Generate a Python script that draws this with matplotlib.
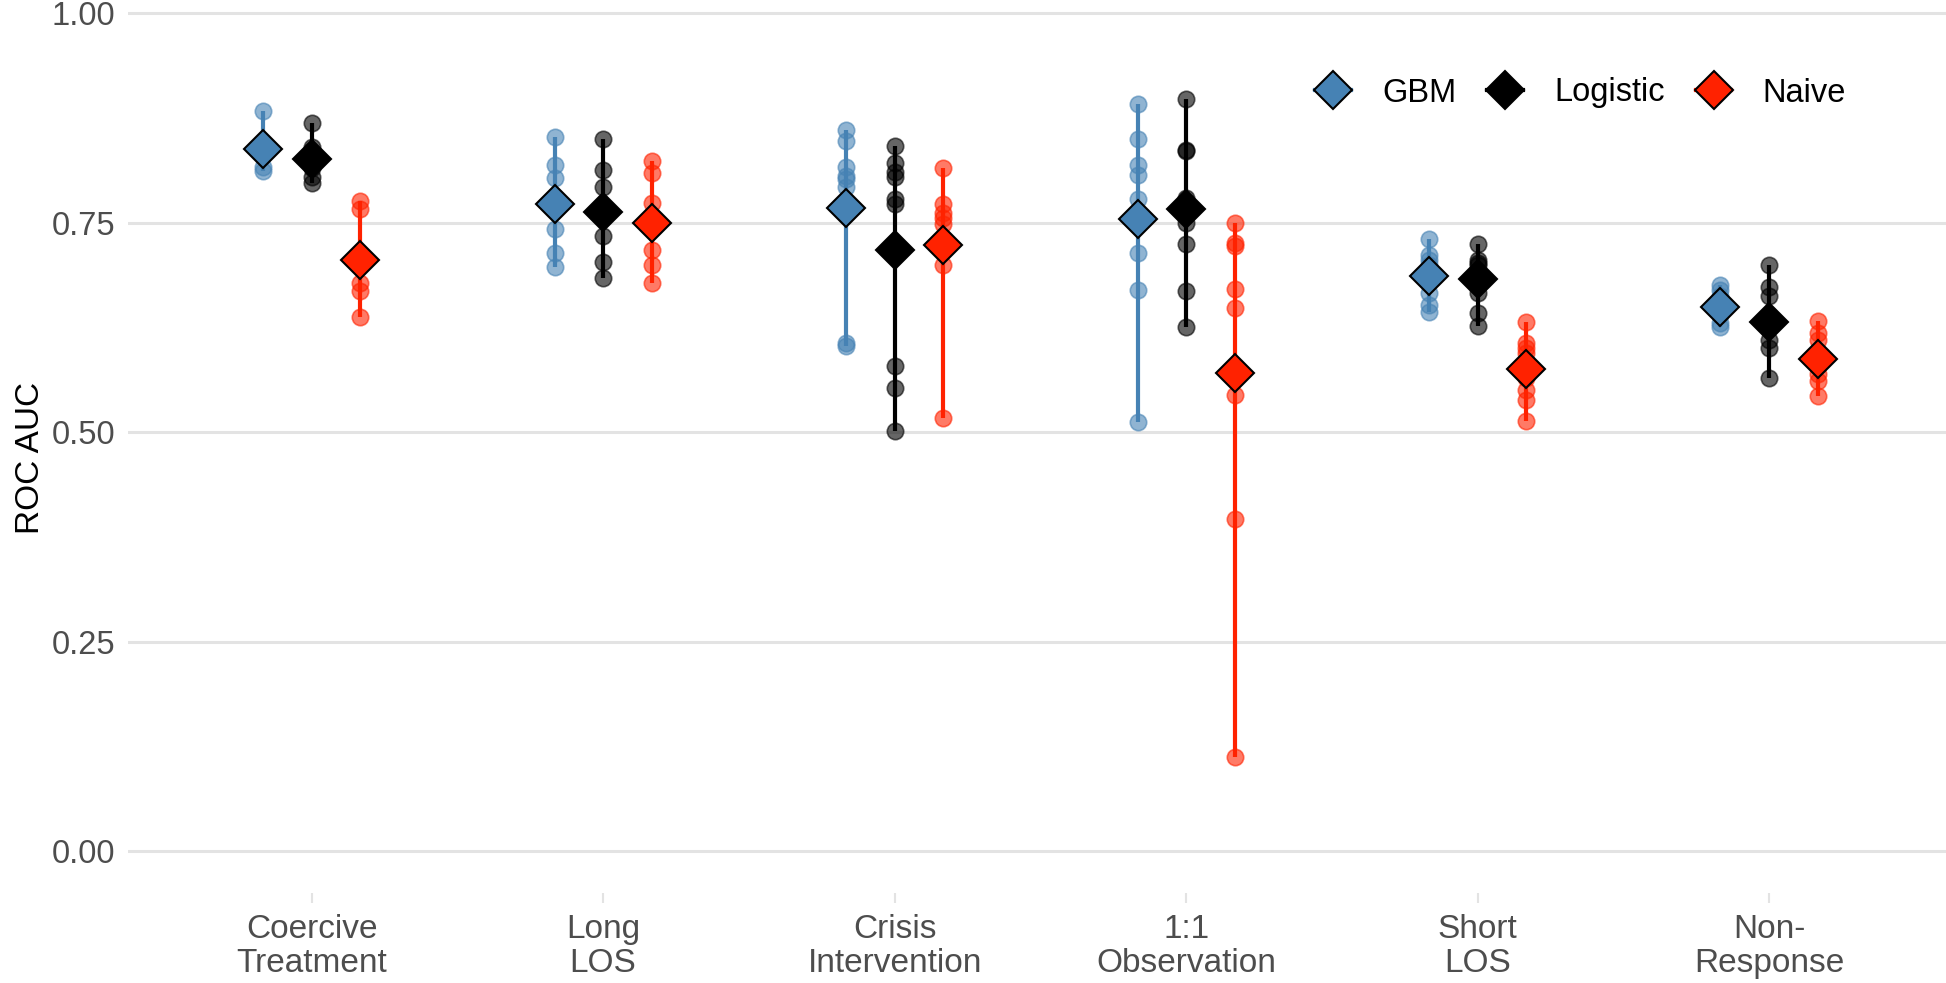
import matplotlib
matplotlib.use("Agg")
import numpy as np
import matplotlib.pyplot as plt
from matplotlib.lines import Line2D

plt.rcParams["font.family"] = ["Liberation Sans", "DejaVu Sans"]

# 数据：每个结局、每个模型的交叉验证 AUC
categories = ["Coercive\nTreatment", "Long\nLOS", "Crisis\nIntervention",
              "1:1\nObservation", "Short\nLOS", "Non-\nResponse"]
models = ["GBM", "Logistic", "Naive"]

gbm_folds = [
    [0.883, 0.845, 0.835, 0.832, 0.817, 0.812],
    [0.852, 0.819, 0.803, 0.742, 0.714, 0.697],
    [0.860, 0.847, 0.817, 0.806, 0.802, 0.793, 0.606, 0.603],
    [0.892, 0.850, 0.819, 0.807, 0.778, 0.714, 0.670, 0.512],
    [0.731, 0.712, 0.705, 0.700, 0.690, 0.666, 0.652, 0.644],
    [0.676, 0.670, 0.662, 0.650, 0.640, 0.630, 0.625],
]
logistic_folds = [
    [0.869, 0.840, 0.830, 0.815, 0.805, 0.797],
    [0.850, 0.813, 0.793, 0.734, 0.703, 0.684],
    [0.841, 0.821, 0.811, 0.805, 0.778, 0.772, 0.579, 0.553, 0.501],
    [0.897, 0.837, 0.835, 0.780, 0.760, 0.750, 0.725, 0.668, 0.626],
    [0.725, 0.706, 0.702, 0.700, 0.690, 0.666, 0.642, 0.627],
    [0.699, 0.673, 0.662, 0.640, 0.625, 0.610, 0.600, 0.565],
]
naive_folds = [
    [0.776, 0.766, 0.705, 0.678, 0.668, 0.637],
    [0.823, 0.809, 0.774, 0.718, 0.699, 0.678],
    [0.815, 0.772, 0.762, 0.756, 0.748, 0.700, 0.517],
    [0.750, 0.726, 0.722, 0.671, 0.648, 0.544, 0.396, 0.113],
    [0.631, 0.606, 0.600, 0.594, 0.585, 0.565, 0.551, 0.539, 0.514],
    [0.633, 0.618, 0.610, 0.595, 0.580, 0.570, 0.561, 0.543],
]
# 菱形 = 平均 AUC
gbm_mean = [0.838, 0.772, 0.768, 0.754, 0.686, 0.649]
logistic_mean = [0.826, 0.763, 0.717, 0.766, 0.683, 0.632]
naive_mean = [0.705, 0.750, 0.723, 0.571, 0.576, 0.587]

y_ticks = [0.00, 0.25, 0.50, 0.75, 1.00]

colors = {"GBM": "#4682B4", "Logistic": "#000000", "Naive": "#FF2200"}
folds = {"GBM": gbm_folds, "Logistic": logistic_folds, "Naive": naive_folds}
means = {"GBM": gbm_mean, "Logistic": logistic_mean, "Naive": naive_mean}
offsets = {"GBM": -1 / 6, "Logistic": 0.0, "Naive": 1 / 6}

W, H = 1946, 983
fig = plt.figure(figsize=(W / 100, H / 100), dpi=100)
ax = fig.add_axes([128 / W, 90 / H, (W - 128) / W, 893 / H])

x = np.arange(1, len(categories) + 1)
for m in models:
    c = colors[m]
    for i, vals in enumerate(folds[m]):
        xi = x[i] + offsets[m]
        ax.plot([xi, xi], [min(vals), max(vals)], color=c, lw=3.0, zorder=2,
                solid_capstyle="butt")
        ax.scatter(np.full(len(vals), xi), vals, s=140, color=c, alpha=0.6,
                   edgecolors=c, linewidths=1.2, zorder=3)
    ax.plot(x + offsets[m], means[m], linestyle="none", marker="D", markersize=19,
            markerfacecolor=c, markeredgecolor="black", markeredgewidth=1.5, zorder=4)

ax.set_xlim(0.37, 6.607)
ax.set_ylim(-0.0495, 1.0156)
ax.set_xticks(x)
ax.set_xticklabels(categories, fontsize=24, color="#4D4D4D", linespacing=1.13)
ax.set_yticks(y_ticks)
ax.set_yticklabels([f"{v:.2f}" for v in y_ticks], fontsize=23.5, color="#4D4D4D")
ax.tick_params(axis="x", length=7, width=1.5, color="#E3E3E3", pad=8)
ax.tick_params(axis="y", length=0, pad=9)
ax.grid(axis="y", color="#E3E3E3", lw=2.2)
ax.set_axisbelow(True)
for s in ax.spines.values():
    s.set_visible(False)

ax.set_ylabel("ROC AUC", fontsize=24, color="black")
ax.yaxis.set_label_coords(-0.045, 0.487)

handles = [Line2D([], [], color=colors[m], lw=3.0, marker="D", markersize=19,
                  markerfacecolor=colors[m], markeredgecolor="black",
                  markeredgewidth=1.5) for m in models]
fig.legend(handles, models, loc="center left", bbox_to_anchor=(1315 / W, 1 - 93 / H),
           ncol=3, frameon=False, fontsize=23.5, handlelength=1.1, handletextpad=0.95,
           columnspacing=0.95, borderpad=0, borderaxespad=0)

plt.savefig("out.png", dpi=100)
plt.close("all")
